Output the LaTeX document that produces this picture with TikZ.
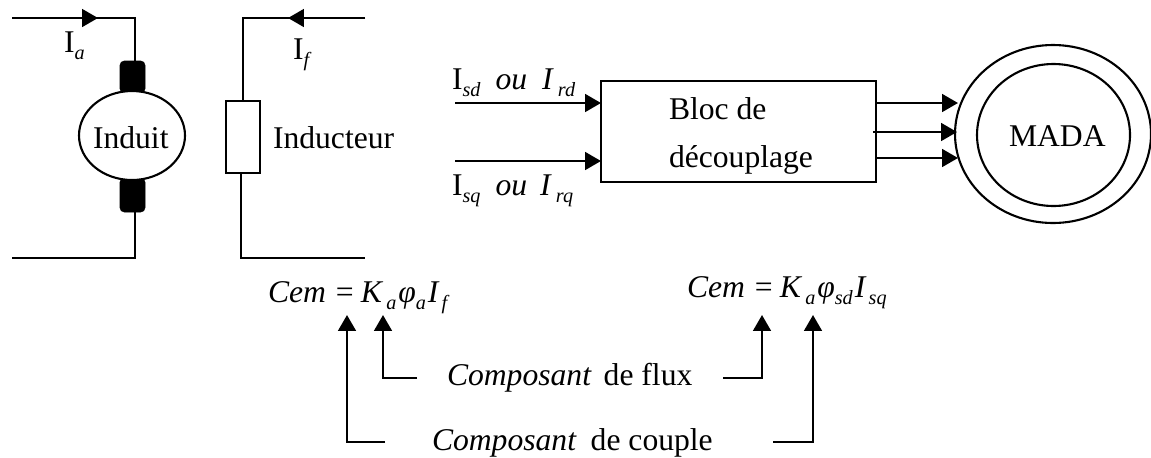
\documentclass[tikz,border=0pt]{standalone}
\usepackage{fontspec}
\setmainfont{Liberation Serif}
\usetikzlibrary{arrows.meta,shapes.geometric}
\newlength\pxu
\setlength\pxu{0.02cm}
\newcommand{\lowidx}[1]{\raisebox{-7\pxu}{\fontsize{11.5}{11.5}\selectfont\textit{#1}}}
\newcommand{\gap}[1]{\hspace{#1\pxu}}
\tikzset{
    wire/.style={line width=1.3pt, black},
    flow/.style={line width=1.4pt, black, -{Triangle[length=9pt,width=10pt]}},
    tag/.style={anchor=base west, inner sep=0pt, outer sep=0pt, font=\fontsize{18}{20}\selectfont},
    brush/.style={fill=black, draw=black, rounded corners=2.5pt, minimum width=25*\pxu, inner sep=0pt, outer sep=0pt},
    loop/.style={draw, line width=1.2pt, ellipse, inner sep=0pt, outer sep=0pt}
}
\begin{document}
\begin{tikzpicture}[x=\pxu, y=-\pxu]
    \useasboundingbox (0,0) rectangle (1151,457);
    % induit
    \node[brush, minimum height=32*\pxu] (brushtop) at (132.5,77) {};
    \node[brush, minimum height=34*\pxu] (brushbot) at (132.5,195) {};
    \node[loop, fill=white, minimum width=106*\pxu, minimum height=89*\pxu] (induit) at (132,135.5) {};
    \node[tag] (induittxt) at (93,148) {Induit};
    \coordinate (iatop) at (12,18);
    \coordinate (iacorner) at (135,18);
    \coordinate (iatip) at (98,18);
    \coordinate (iabot) at (12,258);
    \coordinate (iacornerb) at (135,258);
    \draw[wire] (iatop) -- (iacorner) -- (iacorner |- brushtop.north);
    \draw[flow] (iatop) -- (iatip);
    \draw[wire] (iacorner |- brushbot.south) -- (iacornerb) -- (iabot);
    \node[tag] (ialabel) at (64,52) {I\lowidx{a}};
    % inducteur
    \node[draw, line width=1.2pt, fill=white, minimum width=34*\pxu, minimum height=72*\pxu, inner sep=0pt, outer sep=0pt] (field) at (243,137) {};
    \node[tag] (fieldtxt) at (273,148) {Inducteur};
    \coordinate (iftop) at (365,18);
    \coordinate (ifcorner) at (243,18);
    \coordinate (iftip) at (288,18);
    \coordinate (ifbot) at (365,258);
    \coordinate (ifcornerb) at (241,258);
    \draw[wire] (iftop) -- (ifcorner) -- (field.north);
    \draw[flow] (iftop) -- (iftip);
    \draw[wire] (ifcornerb |- field.south) -- (ifcornerb) -- (ifbot);
    \node[tag] (iflabel) at (293,59) {I\lowidx{f}};
    % bloc de decouplage
    \node[draw, line width=1.3pt, minimum width=275*\pxu, minimum height=101*\pxu, inner sep=0pt, outer sep=0pt] (bloc) at (738.5,131.5) {};
    \node[tag] (bloctxta) at (669,119) {Bloc de};
    \node[tag] (bloctxtb) at (669,167) {découplage};
    \coordinate (isdin) at (455,103);
    \coordinate (isqin) at (455,161);
    \draw[flow] (isdin) -- (bloc.west |- isdin);
    \draw[flow] (isqin) -- (bloc.west |- isqin);
    \node[tag] (isdlabel) at (452,89) {I\lowidx{sd}\gap{15}\textit{ou}\gap{15}\textit{I}\gap{4}\lowidx{rd}};
    \node[tag] (isqlabel) at (452,195) {I\lowidx{sq}\gap{15}\textit{ou}\gap{13}\textit{I}\gap{4}\lowidx{rq}};
    % MADA
    \node[loop, minimum width=196*\pxu, minimum height=178*\pxu] (ringout) at (1053,134) {};
    \node[loop, minimum width=153*\pxu, minimum height=142*\pxu] (ringin) at (1053.5,135) {};
    \node[tag] (madatxt) at (1009,146) {MADA};
    \foreach \y/\tipx in {103/958, 158/958} {
        \draw[flow] (bloc.east |- 0,\y) -- (\tipx,\y);
    }
    \coordinate (midin) at (873,132);
    \coordinate (midtip) at (957,132);
    \draw[flow] (midin) -- (midtip);
    % formules
    \node[tag] (cemleft) at (268,302) {\textit{Cem}\gap{10}=\gap{7}\textit{K}\gap{3}\lowidx{a}\gap{2}\textit{φ}\lowidx{a}\gap{2}\textit{I}\gap{2}\lowidx{f}};
    \node[tag] (cemright) at (687,297) {\textit{Cem}\gap{10}=\gap{7}\textit{K}\gap{3}\lowidx{a}\gap{2}\textit{φ}\lowidx{sd}\gap{2}\textit{I}\gap{2}\lowidx{sq}};
    \node[tag] (fluxtxt) at (447,385) {\textit{Composant}\gap{12}de flux};
    \node[tag] (coupletxt) at (432,450) {\textit{Composant}\gap{14}de couple};
    \coordinate (tipa) at (347,315);
    \coordinate (tipb) at (383,315);
    \coordinate (tipc) at (762,315);
    \coordinate (tipd) at (813,315);
    \coordinate (fluxl) at (417,378);
    \coordinate (fluxr) at (723,378);
    \coordinate (couplel) at (385,442);
    \coordinate (coupler) at (773,442);
    \draw[flow] (couplel) -| (tipa);
    \draw[flow] (fluxl) -| (tipb);
    \draw[flow] (fluxr) -| (tipc);
    \draw[flow] (coupler) -| (tipd);
\end{tikzpicture}
\end{document}
